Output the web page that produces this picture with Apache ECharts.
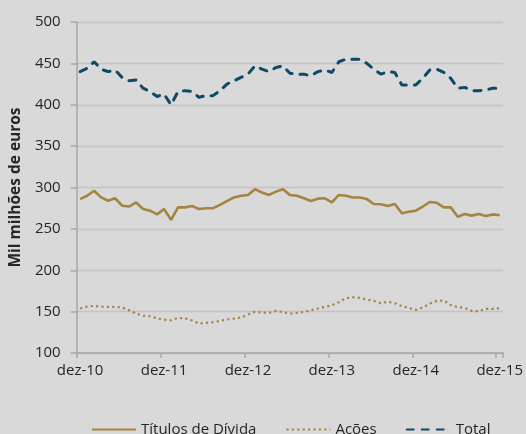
<!DOCTYPE html>
<html>
<head>
<meta charset="utf-8">
<script src="https://cdn.jsdelivr.net/npm/echarts@6/dist/echarts.min.js"></script>
<style>
html,body{margin:0;padding:0;background:#d9d9d9;}
#c{width:526px;height:434px;}
</style>
</head>
<body>
<div id="c"></div>
<script>
const monthNames = ['jan','fev','mar','abr','mai','jun','jul','ago','set','out','nov','dez'];
const startYear = 10, endYear = 15;
const categories = ['dez-10'];
for (let y = startYear + 1; y <= endYear; y++) {
  for (let m = 0; m < 12; m++) categories.push(monthNames[m] + '-' + y);
}

const titulos = [286,290,296,288,284,287,278,277,282,274,272,267.5,274,261,276,
  276,277.6,274,275,275,279,283.6,288,290,291,298,294,291,295,298,
  291,290,287,283.6,286.5,287,282,291,290,288,288,286,280,279.7,277.6,
  280,268.8,270.7,272,277,282.5,281.6,276,276,264.7,268,266,268,265.5,267.5,266.5];

const acoes = [153.8,156,157,156,155.7,155.7,155,151.7,147.6,145,144.4,142,140.4,139.6,142.4,
  142,139.2,135.6,136.4,137.2,138.8,140.4,141.6,142.8,146.5,149.7,148.9,148.5,150.9,149.3,
  147.7,148.5,149.7,151.7,153.8,155.7,157.8,161.4,166.2,167.4,166.6,164.6,163,160.2,162,
  160.2,156.6,154.5,152.1,155,159.8,163,163.4,158.1,155.3,154.5,150.8,150.5,153.3,153.3,154.1];

const total = [440,444,452,443,440,442,433,429,430,420,416,410,413,400,416,
  417,416,409,411,411,417,425,429,433,437,447,443,440,445,447,
  438,437,437,435,440,442,439,452,455,455,455,450,443,437,440,
  439,424,424,424,432,442,443,439,432,420,421,417,417,418,420,420];

const seriesNames = ['Títulos de Dívida', 'Ações', 'Total'];
const font = 'Open Sans';
const textColor = '#262626';
const axisColor = '#a6a6a6';

const chart = echarts.init(document.getElementById('c'));
chart.setOption({
  backgroundColor: '#d9d9d9',
  animation: false,
  grid: {left: 76, right: 21, top: 22, bottom: 81},
  legend: {
    left: 86, top: 417,
    itemWidth: 44, itemHeight: 14, itemGap: 29,
    itemStyle: {opacity: 0},
    textStyle: {fontFamily: font, fontSize: 15, color: textColor},
    data: seriesNames
  },
  xAxis: {
    type: 'category',
    data: categories,
    boundaryGap: true,
    axisLine: {lineStyle: {color: axisColor, width: 1.5}},
    axisTick: {show: true, interval: 11, length: 5, lineStyle: {color: axisColor, width: 1.5}},
    axisLabel: {interval: 11, margin: 10, fontFamily: font, fontSize: 15, color: textColor},
    splitLine: {show: false}
  },
  yAxis: {
    type: 'value',
    min: 100, max: 500, interval: 50,
    name: 'Mil milhões de euros',
    nameLocation: 'middle',
    nameGap: 48,
    nameRotate: 90,
    nameTextStyle: {fontFamily: font, fontSize: 15.5, fontWeight: 'bold', color: textColor},
    axisLine: {show: true, lineStyle: {color: axisColor, width: 1.5}},
    axisTick: {show: true, length: 6, lineStyle: {color: axisColor, width: 1.5}},
    axisLabel: {margin: 16, fontFamily: font, fontSize: 15, color: textColor},
    splitLine: {lineStyle: {color: '#c3c3c3', width: 1.3}}
  },
  series: [
    {name: seriesNames[0], type: 'line', data: titulos, symbol: 'none',
     lineStyle: {color: '#a5843f', width: 2.6}, itemStyle: {color: '#a5843f'}},
    {name: seriesNames[1], type: 'line', data: acoes, symbol: 'none',
     lineStyle: {color: '#a5843f', width: 2.2, type: [2.2, 3.2]}, itemStyle: {color: '#a5843f'}},
    {name: seriesNames[2], type: 'line', data: total, symbol: 'none',
     lineStyle: {color: '#0e4a66', width: 3, type: [7, 8], cap: 'round'}, itemStyle: {color: '#0e4a66'}}
  ]
});
</script>
</body>
</html>
